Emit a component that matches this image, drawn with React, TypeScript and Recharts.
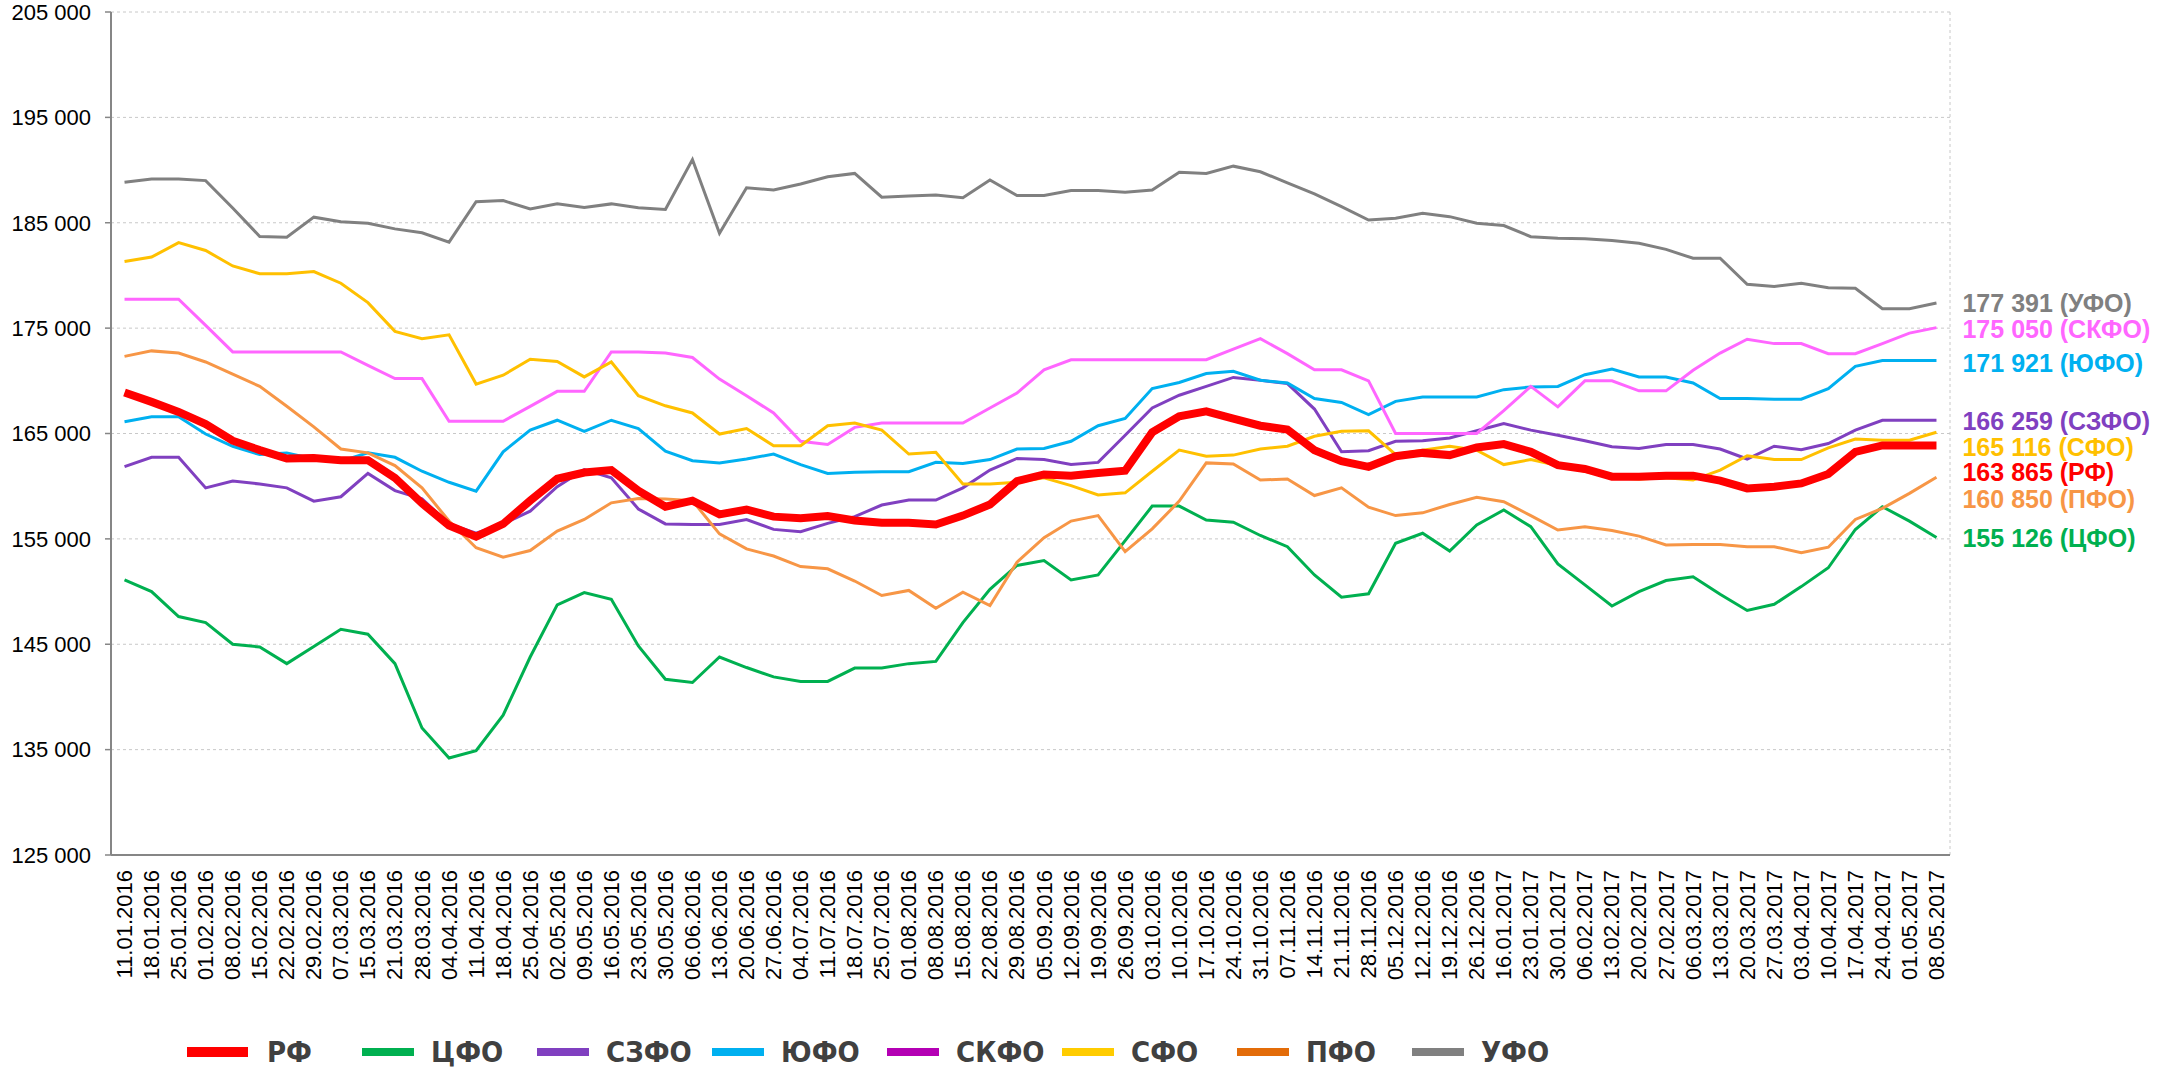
import {
  CartesianGrid,
  LabelList,
  Legend,
  Line,
  LineChart,
  XAxis,
  YAxis,
} from "recharts";

const dates = [
  "11.01.2016", "18.01.2016", "25.01.2016", "01.02.2016", "08.02.2016", "15.02.2016",
  "22.02.2016", "29.02.2016", "07.03.2016", "15.03.2016", "21.03.2016", "28.03.2016",
  "04.04.2016", "11.04.2016", "18.04.2016", "25.04.2016", "02.05.2016", "09.05.2016",
  "16.05.2016", "23.05.2016", "30.05.2016", "06.06.2016", "13.06.2016", "20.06.2016",
  "27.06.2016", "04.07.2016", "11.07.2016", "18.07.2016", "25.07.2016", "01.08.2016",
  "08.08.2016", "15.08.2016", "22.08.2016", "29.08.2016", "05.09.2016", "12.09.2016",
  "19.09.2016", "26.09.2016", "03.10.2016", "10.10.2016", "17.10.2016", "24.10.2016",
  "31.10.2016", "07.11.2016", "14.11.2016", "21.11.2016", "28.11.2016", "05.12.2016",
  "12.12.2016", "19.12.2016", "26.12.2016", "16.01.2017", "23.01.2017", "30.01.2017",
  "06.02.2017", "13.02.2017", "20.02.2017", "27.02.2017", "06.03.2017", "13.03.2017",
  "20.03.2017", "27.03.2017", "03.04.2017", "10.04.2017", "17.04.2017", "24.04.2017",
  "01.05.2017", "08.05.2017",
];

const rf = [
  168900, 168000, 167050, 165900, 164320, 163420, 162630, 162680, 162470, 162470,
  160790, 158370, 156270, 155210, 156420, 158630, 160700, 161300, 161530, 159580,
  158050, 158630, 157320, 157790, 157110, 156950, 157160, 156740, 156530, 156530,
  156370, 157210, 158260, 160470, 161110, 161000, 161260, 161470, 165110, 166630,
  167110, 166420, 165740, 165370, 163420, 162370, 161840, 162840, 163160, 162950,
  163680, 164000, 163260, 162000, 161630, 160900, 160900, 161000, 161000, 160530,
  159790, 159950, 160260, 161160, 163260, 163865, 163865, 163865,
];

const cfo = [
  151110, 150000, 147630, 147050, 145000, 144740, 143160, 144790, 146420, 145950,
  143160, 137050, 134210, 134900, 138270, 143790, 148740, 149900, 149260, 144840,
  141680, 141370, 143790, 142790, 141900, 141470, 141470, 142740, 142740, 143160,
  143370, 147050, 150210, 152480, 152950, 151110, 151580, 154840, 158110, 158110,
  156790, 156580, 155320, 154260, 151580, 149470, 149790, 154580, 155530, 153840,
  156320, 157740, 156160, 152630, 150630, 148630, 150000, 151050, 151400, 149740,
  148210, 148790, 150470, 152260, 155890, 158050, 156680, 155126,
];

const szfo = [
  161850, 162740, 162740, 159840, 160480, 160210, 159840, 158580, 159000, 161210,
  159580, 158790, 156420, 155530, 156420, 157630, 159950, 161580, 160790, 157840,
  156420, 156370, 156370, 156840, 155900, 155680, 156470, 157110, 158210, 158680,
  158680, 159840, 161530, 162630, 162530, 162050, 162260, 164840, 167420, 168630,
  169470, 170320, 170050, 169740, 167320, 163260, 163370, 164260, 164320, 164580,
  165260, 165950, 165320, 164840, 164320, 163740, 163580, 163950, 163950, 163530,
  162580, 163790, 163470, 164050, 165320, 166259, 166259, 166259,
];

const yufo = [
  166110, 166580, 166580, 164950, 163790, 163000, 163160, 162580, 162370, 163160,
  162740, 161420, 160370, 159530, 163260, 165320, 166260, 165210, 166260, 165470,
  163320, 162420, 162210, 162580, 163050, 162050, 161210, 161320, 161370, 161370,
  162260, 162160, 162530, 163530, 163580, 164260, 165740, 166420, 169260, 169840,
  170690, 170900, 170050, 169790, 168320, 167950, 166790, 168050, 168470, 168470,
  168470, 169160, 169420, 169470, 170580, 171110, 170370, 170370, 169790, 168320,
  168320, 168260, 168260, 169260, 171370, 171921, 171921, 171921,
];

const skfo = [
  177740, 177740, 177740, 175260, 172740, 172740, 172740, 172740, 172740, 171470,
  170210, 170210, 166160, 166160, 166160, 167580, 169000, 169000, 172740, 172740,
  172630, 172210, 170160, 168580, 166950, 164260, 163950, 165580, 166000, 166000,
  166000, 166000, 167420, 168840, 171050, 172000, 172000, 172000, 172000, 172000,
  172000, 173000, 174000, 172580, 171050, 171050, 170000, 165000, 165000, 165000,
  165000, 167160, 169470, 167530, 170000, 170000, 169050, 169050, 171000, 172630,
  173950, 173530, 173530, 172580, 172580, 173530, 174530, 175050,
];

const sfo = [
  181320, 181740, 183110, 182370, 180900, 180160, 180160, 180370, 179260, 177420,
  174690, 174000, 174370, 169690, 170530, 172050, 171840, 170370, 171790, 168580,
  167630, 166950, 164950, 165470, 163840, 163840, 165740, 166000, 165320, 163050,
  163210, 160210, 160210, 160370, 160790, 160050, 159160, 159370, 161420, 163420,
  162840, 162950, 163530, 163790, 164740, 165210, 165260, 163000, 163420, 163790,
  163420, 162050, 162530, 161950, 161420, 160790, 160680, 160790, 160580, 161530,
  162890, 162530, 162530, 163630, 164470, 164370, 164370, 165116,
];

const pfo = [
  172320, 172840, 172630, 171790, 170630, 169470, 167580, 165630, 163530, 163160,
  161950, 159840, 156690, 154160, 153260, 153890, 155740, 156840, 158420, 158840,
  158790, 158630, 155470, 154050, 153370, 152370, 152160, 151000, 149630, 150110,
  148420, 149950, 148680, 152790, 155110, 156690, 157210, 153790, 155950, 158580,
  162210, 162110, 160580, 160680, 159110, 159840, 158000, 157210, 157470, 158260,
  158950, 158530, 157210, 155840, 156160, 155790, 155260, 154420, 154470, 154470,
  154260, 154260, 153680, 154210, 156840, 157900, 159320, 160850,
];

const ufo = [
  188840, 189160, 189150, 189000, 186400, 183700, 183630, 185530, 185100, 184950,
  184420, 184050, 183160, 187000, 187100, 186300, 186800, 186450, 186790, 186420,
  186260, 191000, 184000, 188320, 188110, 188680, 189370, 189680, 187420, 187530,
  187630, 187370, 189050, 187580, 187580, 188050, 188050, 187890, 188110, 189790,
  189680, 190370, 189840, 188790, 187740, 186530, 185260, 185420, 185890, 185580,
  184950, 184740, 183680, 183530, 183470, 183320, 183050, 182470, 181630, 181630,
  179160, 178950, 179260, 178840, 178790, 176840, 176840, 177391,
];

const yTicks = [125000, 135000, 145000, 155000, 165000, 175000, 185000, 195000, 205000];

// drawing order: regions first, РФ on top
const series = [
  { key: "cfo", name: "ЦФО", values: cfo, color: "#00B050", legend: "#00B050", width: 3, dy: 0 },
  { key: "szfo", name: "СЗФО", values: szfo, color: "#8040C0", legend: "#8040C0", width: 3, dy: 1 },
  { key: "yufo", name: "ЮФО", values: yufo, color: "#00B0F0", legend: "#00B0F0", width: 3, dy: 2 },
  { key: "skfo", name: "СКФО", values: skfo, color: "#FF66FF", legend: "#B400B4", width: 3, dy: 1 },
  { key: "sfo", name: "СФО", values: sfo, color: "#FFC000", legend: "#FFCC00", width: 3, dy: 15 },
  { key: "pfo", name: "ПФО", values: pfo, color: "#F79646", legend: "#E36C09", width: 3, dy: 22 },
  { key: "ufo", name: "УФО", values: ufo, color: "#808080", legend: "#808080", width: 3, dy: 0 },
  { key: "rf", name: "РФ", values: rf, color: "#FF0000", legend: "#FF0000", width: 8, dy: 27 },
];

const legendOrder = ["rf", "cfo", "szfo", "yufo", "skfo", "sfo", "pfo", "ufo"];

const rows = dates.map((d, i) => {
  const row: any = { idx: i, date: d };
  series.forEach((s) => (row[s.key] = s.values[i]));
  return row;
});

const labelTicks = dates.map((_, i) => i);
const gridTicks = [...dates.map((_, i) => i - 0.5), dates.length - 0.5];

const fmt = (v: number) => String(v).replace(/\B(?=(\d{3})+(?!\d))/g, " ");

const FONT = "'Liberation Sans', Arial, sans-serif";

const DateTick = (props: any) => {
  const { x, y, payload } = props;
  return (
    <text
      x={x}
      y={y}
      transform={`rotate(-90 ${x} ${y})`}
      textAnchor="end"
      dominantBaseline="central"
      fontSize={22}
      fontFamily={FONT}
      fill="#000"
    >
      {dates[payload.value]}
    </text>
  );
};

const endLabel = (s: (typeof series)[number]) => (props: any) => {
  const { x, y, index } = props;
  if (index !== dates.length - 1) return null;
  return (
    <text
      x={x + 26}
      y={y + s.dy}
      dominantBaseline="central"
      fontSize={25}
      fontWeight="bold"
      fontFamily={FONT}
      fill={s.color}
    >
      {`${fmt(s.values[index])} (${s.name})`}
    </text>
  );
};

const LegendRow = () => (
  <div
    style={{
      height: 76,
      boxSizing: "border-box",
      paddingLeft: 179,
      paddingTop: 36,
      display: "flex",
      alignItems: "center",
    }}
  >
    {legendOrder.map((k) => {
      const s = series.find((x) => x.key === k)!;
      const big = k === "rf";
      return (
        <div key={k} style={{ width: 175, display: "flex", alignItems: "center" }}>
          <span
            style={{
              display: "inline-block",
              width: big ? 61 : 52,
              height: big ? 10 : 8,
              background: s.legend,
              marginRight: big ? 19 : 17,
            }}
          />
          <span
            style={{
              fontSize: 29,
              fontWeight: "bold",
              color: "#404040",
              fontFamily: "'Liberation Sans Narrow', 'DejaVu Sans Condensed', sans-serif",
            }}
          >
            {s.name}
          </span>
        </div>
      );
    })}
  </div>
);

function App() {
  return (
    <div style={{ position: "absolute", left: 0, top: 0 }}>
      <LineChart
        width={2171}
        height={1072}
        data={rows}
        margin={{ top: 12, right: 221, bottom: 0, left: 8 }}
      >
        <CartesianGrid xAxisId="grid" stroke="#c8c8c8" strokeDasharray="3 3" />
        <XAxis
          xAxisId="grid"
          type="number"
          dataKey="idx"
          domain={[-0.5, dates.length - 0.5]}
          ticks={gridTicks}
          interval={0}
          tick={false}
          height={1}
          tickSize={7}
          axisLine={{ stroke: "#868686", strokeWidth: 2 }}
          tickLine={{ stroke: "#868686", strokeWidth: 1.5 }}
        />
        <XAxis
          xAxisId="lab"
          type="number"
          dataKey="idx"
          domain={[-0.5, dates.length - 0.5]}
          ticks={labelTicks}
          interval={0}
          tick={<DateTick />}
          tickLine={false}
          axisLine={false}
          tickSize={6}
          tickMargin={8}
          height={140}
        />
        <YAxis
          type="number"
          domain={[125000, 205000]}
          ticks={yTicks}
          interval={0}
          width={103}
          tickFormatter={fmt}
          tickSize={6}
          tickMargin={14}
          tick={{ fill: "#000", fontSize: 22, fontFamily: FONT }}
          axisLine={{ stroke: "#868686", strokeWidth: 2 }}
          tickLine={{ stroke: "#868686", strokeWidth: 1.5 }}
        />
        <Legend verticalAlign="bottom" align="left" content={() => <LegendRow />} />
        {series.map((s) => (
          <Line
            key={s.key}
            xAxisId="lab"
            type="linear"
            dataKey={s.key}
            name={s.name}
            stroke={s.color}
            strokeWidth={s.width}
            dot={false}
            activeDot={false}
            isAnimationActive={false}
          >
            <LabelList dataKey={s.key} content={endLabel(s)} />
          </Line>
        ))}
      </LineChart>
    </div>
  );
}

export default App;
